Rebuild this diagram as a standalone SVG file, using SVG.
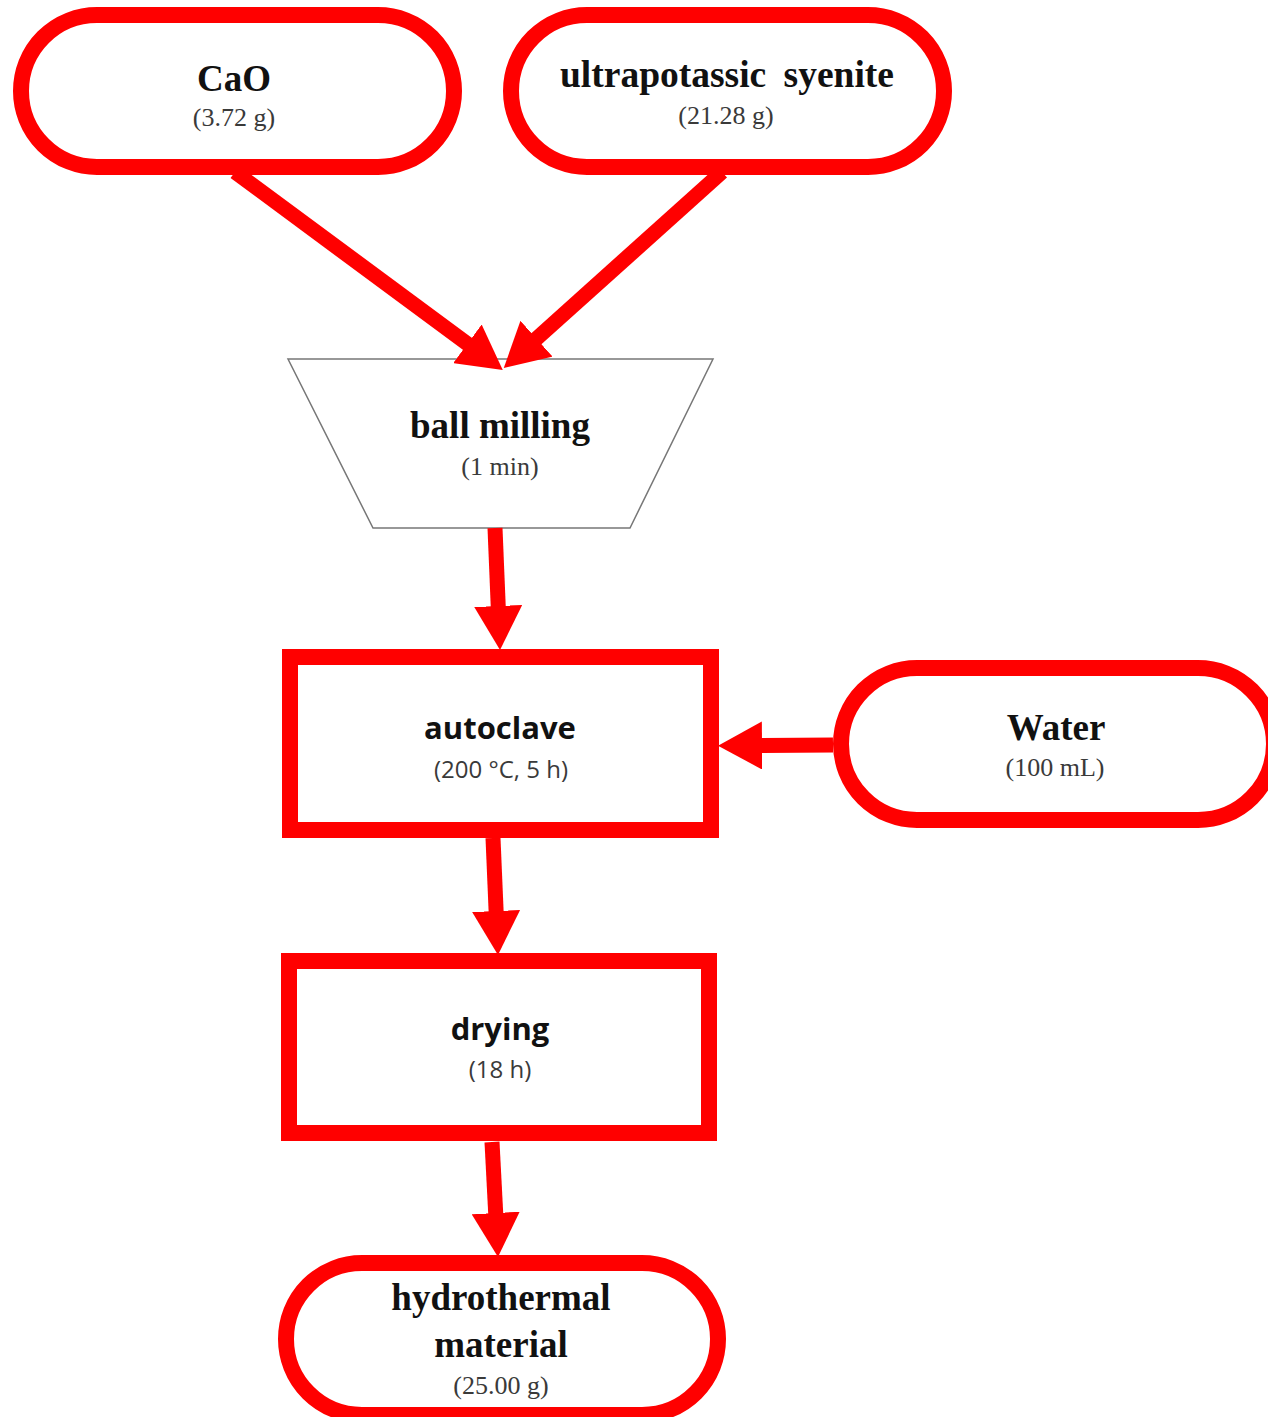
<svg xmlns="http://www.w3.org/2000/svg" width="1268" height="1417" viewBox="0 0 1268 1417">
<style>
.pill{fill:#fff;stroke:#ff0000;stroke-width:16}
.box{fill:#fff;stroke:#ff0000;stroke-width:16}
.trap{fill:#fff;stroke:#777;stroke-width:1.5}
.tb{font-family:"Liberation Serif","Times New Roman",serif;font-weight:bold;font-size:37px;fill:#111;text-anchor:middle}
.tr{font-family:"Liberation Serif","Times New Roman",serif;font-size:26px;fill:#3a3a3a;text-anchor:middle}
.sb{font-family:"Open Sans","Noto Sans",sans-serif;font-weight:bold;font-size:31px;fill:#111;text-anchor:middle}
.sr{font-family:"Open Sans","Noto Sans",sans-serif;font-size:24px;fill:#3a3a3a;text-anchor:middle}
.conn{stroke:#ff0000;stroke-width:15;fill:none;marker-end:url(#ah)}
</style>
<defs>
<marker id="ah" markerUnits="userSpaceOnUse" markerWidth="44" markerHeight="48" viewBox="0 0 44 48" refX="2" refY="24" orient="auto">
<path d="M0,0 L44,24 L0,48 Z" fill="#ff0000"/>
</marker>
</defs>
<rect width="1268" height="1417" fill="#fff"/>
<g id="node-cao">
<rect class="pill" x="21" y="15" width="433" height="152" rx="76" ry="76"/>
<text class="tb" x="234" y="91">CaO</text>
<text class="tr" x="234" y="126">(3.72 g)</text>
</g>
<g id="node-syenite">
<rect class="pill" x="511" y="15" width="433" height="152" rx="76" ry="76"/>
<text class="tb" x="727" y="87" word-spacing="8" style="font-size:37.5px">ultrapotassic syenite</text>
<text class="tr" x="726" y="124">(21.28 g)</text>
</g>
<g id="node-ballmilling">
<polygon class="trap" points="288,359 713,359 630,528 373,528"/>
<text class="tb" x="500" y="438">ball milling</text>
<text class="tr" x="500" y="475">(1 min)</text>
</g>
<g id="node-autoclave">
<rect class="box" x="290" y="657" width="421" height="173"/>
<text class="sb" x="500" y="739">autoclave</text>
<text class="sr" x="501" y="778">(200 °C, 5 h)</text>
</g>
<g id="node-water">
<rect class="pill" x="841" y="668" width="433" height="152" rx="76" ry="76"/>
<text class="tb" x="1056" y="740">Water</text>
<text class="tr" x="1055" y="776">(100 mL)</text>
</g>
<g id="node-drying">
<rect class="box" x="289" y="961" width="420" height="172"/>
<text class="sb" x="500" y="1040">drying</text>
<text class="sr" x="500" y="1078">(18 h)</text>
</g>
<g id="node-hydro">
<rect class="pill" x="286" y="1263" width="432" height="152" rx="76" ry="76"/>
<text class="tb" x="501" y="1310">hydrothermal</text>
<text class="tb" x="501" y="1357">material</text>
<text class="tr" x="501" y="1394">(25.00 g)</text>
</g>
<g id="connectors">
<line class="conn" x1="235" y1="172" x2="469" y2="345"/>
<line class="conn" x1="722" y1="172" x2="535" y2="340"/>
<line class="conn" x1="495" y1="528" x2="498.3" y2="608"/>
<line class="conn" x1="833" y1="745" x2="760" y2="745.5"/>
<line class="conn" x1="493" y1="838" x2="496.2" y2="913"/>
<line class="conn" x1="492" y1="1142" x2="495.8" y2="1215"/>
</g>
</svg>
